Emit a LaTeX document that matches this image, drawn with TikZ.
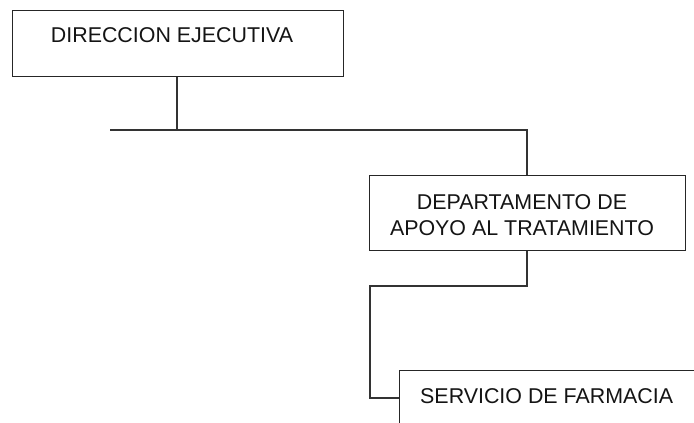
\documentclass[tikz,border=0pt]{standalone}
\usepackage{fontspec}
\setmainfont{Liberation Sans}
\begin{document}
\begin{tikzpicture}[x=1pt,y=-1pt,
  boxst/.style={draw=black!85, line width=1.3pt, rectangle, inner sep=0pt},
  lbl/.style={font=\fontsize{21.4}{26.5}\selectfont, text=black!92, inner sep=0pt},
  conn/.style={draw=black!80, line width=1.2pt}]
\useasboundingbox (0,0) rectangle (694,423);
\clip (0,0) rectangle (694,423);
% boxes
\node[boxst, anchor=north west, minimum width=331, minimum height=66] (b1) at (12,10) {};
\node[lbl, anchor=center] (t1) at (172,35) {DIRECCION EJECUTIVA};
\node[boxst, anchor=north west, minimum width=316, minimum height=75] (b2) at (369,175) {};
\node[lbl, align=center, anchor=center] (t2) at (522,215) {DEPARTAMENTO DE\\APOYO AL TRATAMIENTO};
\node[boxst, anchor=north west, minimum width=340, minimum height=90] (b3) at (399,370) {};
\node[lbl, anchor=west] (t3) at (420,396) {SERVICIO DE FARMACIA};
% connectors
\coordinate (j1) at (177,130);
\coordinate (h0) at (110,130);
\coordinate (j2) at (527,130);
\coordinate (j3) at (527,286);
\coordinate (j4) at (370,286);
\coordinate (j5) at (370,398);
\draw[conn] (b1.south -| j1) -- (j1);
\draw[conn] (h0) -- (j2) -- (b2.north -| j2);
\draw[conn] (b2.south -| j3) -- (j3) -- (j4) -- (j5) -- (j5 -| b3.west);
\end{tikzpicture}
\end{document}
